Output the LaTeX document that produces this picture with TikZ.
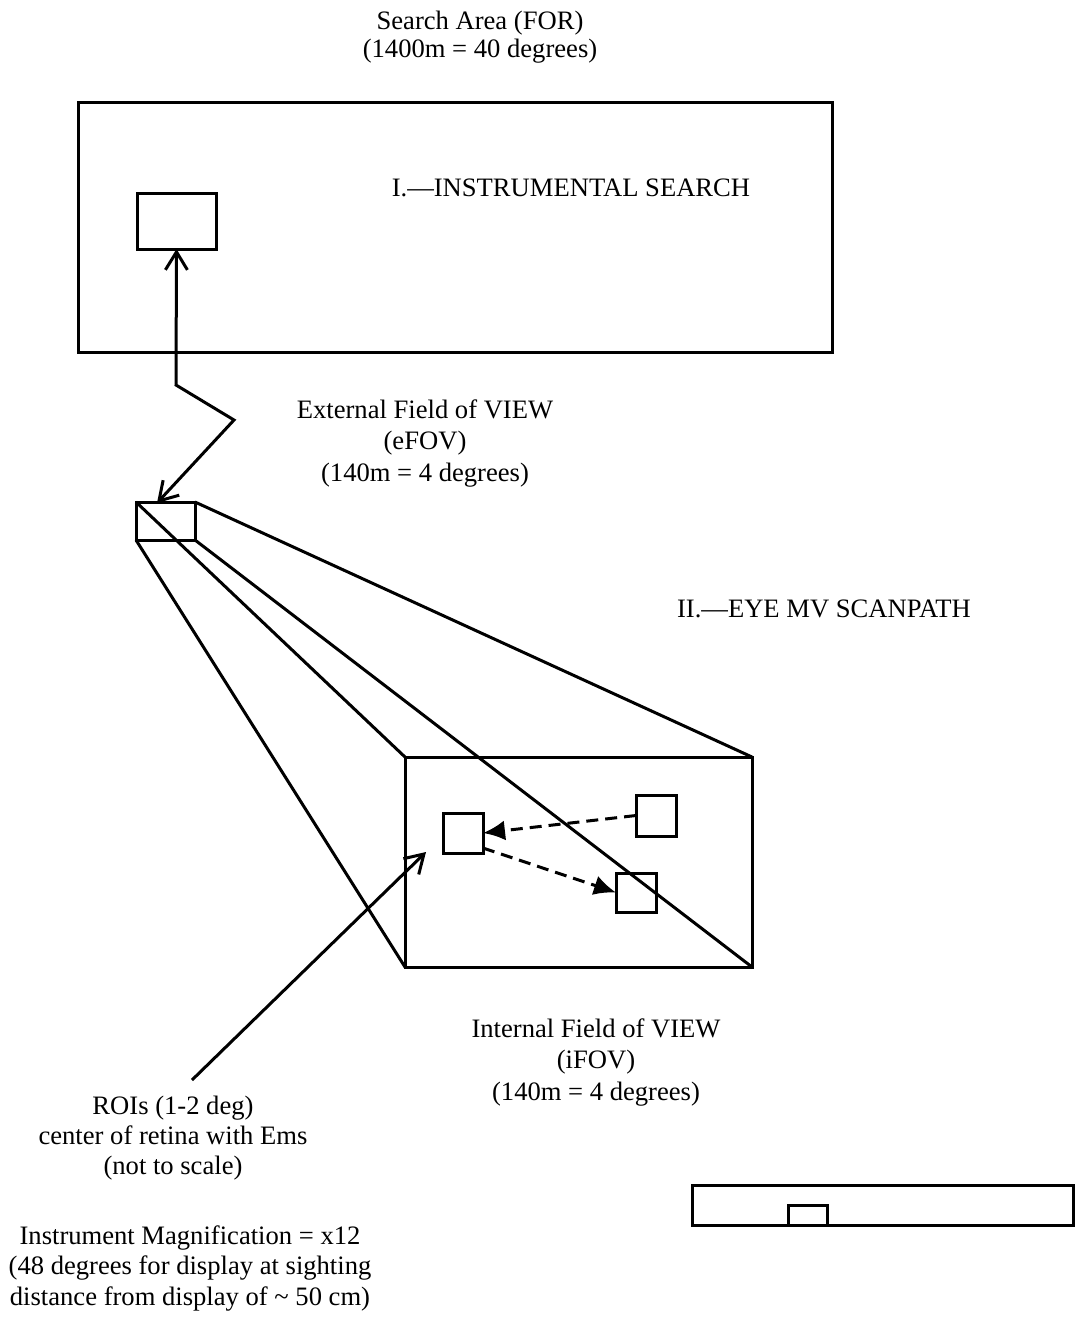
\documentclass[tikz,border=0pt]{standalone}
\usepackage{fontspec}
\setmainfont{Liberation Serif}
\usetikzlibrary{arrows.meta}
\begin{document}
\begin{tikzpicture}[x=0.5pt,y=-0.5pt,
  every path/.style={line width=1.5pt},
  boxnode/.style={draw,line width=1.5pt,inner sep=0pt,outer sep=0pt},
  lbl/.style={align=center,inner sep=0pt,font=\fontsize{13.3}{15.75}\selectfont},
  barb/.style={Straight Barb[length=9pt,width=11pt,line width=1.5pt]},
  openarr/.style={-{Straight Barb[length=9pt,width=11pt,line width=1.5pt]}},
  dasharr/.style={dash pattern=on 6pt off 3.5pt,-{Latex[length=11pt,width=10pt]}}]
\useasboundingbox (0,0) rectangle (1076,1319);
% boxes
\node[boxnode,minimum width=377pt,minimum height=125pt] (for) at (455,227) {};
\node[boxnode,minimum width=39.5pt,minimum height=28pt] (sbox) at (176.5,221) {};
\node[boxnode,minimum width=29.5pt,minimum height=19pt] (efov) at (165.5,521) {};
\node[boxnode,minimum width=173.5pt,minimum height=105pt] (ifov) at (578.5,862) {};
\node[boxnode,minimum width=20pt,minimum height=20pt] (sqA) at (463,833) {};
\node[boxnode,minimum width=20pt,minimum height=20.5pt] (sqB) at (656,815.5) {};
\node[boxnode,minimum width=20pt,minimum height=19.5pt] (sqC) at (636,892.5) {};
\node[boxnode,minimum width=190.5pt,minimum height=20pt] (bar) at (882.5,1205) {};
\node[boxnode,minimum width=19.5pt,minimum height=10pt,anchor=south] (mini) at (807.5,1225) {};
% frustum lines
\draw (efov.north east) -- (ifov.north east);
\draw (efov.north west) -- (ifov.north west);
\draw (efov.south west) -- (ifov.south west);
\draw (efov.south east) -- (ifov.south east);
% zig-zag double arrow
\coordinate (z1) at (176,385);
\coordinate (z2) at (234,420);
\coordinate (etip) at (157,503);
\draw[{Straight Barb[length=9pt,width=11pt,line width=1.5pt]}-{Straight Barb[length=9pt,width=11pt,line width=1.5pt]}]
  (sbox.south) -- (z1) -- (z2) -- (etip);
% ROI arrow
\coordinate (roistart) at (192,1080);
\coordinate (roitip) at (426,852);
\draw[openarr] (roistart) -- (roitip);
% dashed scanpath arrows
\draw[dasharr] (sqB.west) -- (sqA.east);
\draw[dasharr] ([yshift=-7.5pt]sqA.east) -- (sqC.west);
% labels
\node[lbl,font=\fontsize{13.3}{14}\selectfont] (t1) at (480,37) {Search Area (FOR)\\(1400m = 40 degrees)};
\node[lbl] (t2) at (571,188) {I.—INSTRUMENTAL SEARCH};
\node[lbl] (t3) at (425,443) {External Field of VIEW\\(eFOV)\\(140m = 4 degrees)};
\node[lbl] (t4) at (824,609) {II.—EYE MV SCANPATH};
\node[lbl] (t5) at (596,1062) {Internal Field of VIEW\\(iFOV)\\(140m = 4 degrees)};
\node[lbl,font=\fontsize{13.3}{15}\selectfont] (t6) at (173,1138) {ROIs (1-2 deg)\\center of retina with Ems\\(not to scale)};
\node[lbl,font=\fontsize{13.3}{15.25}\selectfont] (t7) at (190,1268) {Instrument Magnification = x12\\(48 degrees for display at sighting\\distance from display of \textasciitilde{} 50 cm)};
\end{tikzpicture}
\end{document}
